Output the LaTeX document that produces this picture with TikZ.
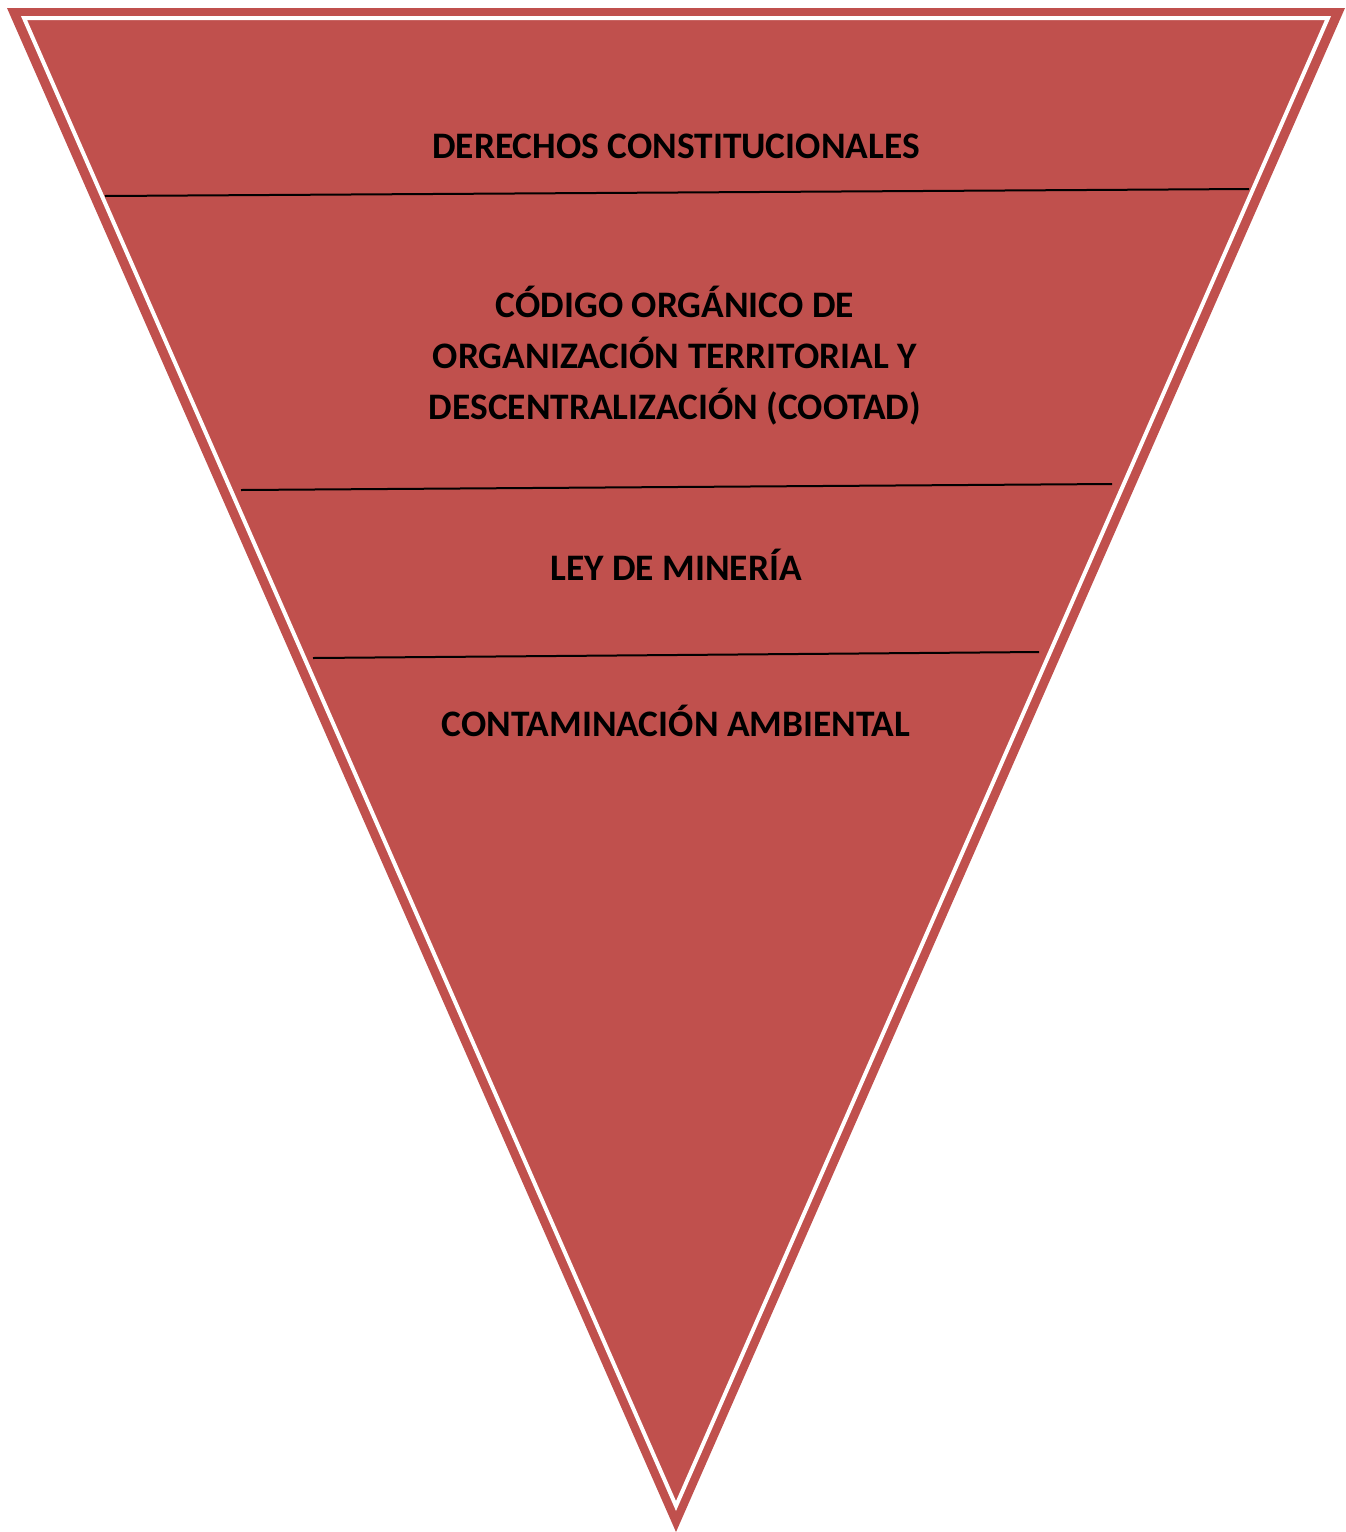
\documentclass[tikz,border=0pt]{standalone}
\usepackage{fontspec}
\setmainfont{Carlito}
\definecolor{accentred}{HTML}{C0504D}
\begin{document}
\begin{tikzpicture}[x=1pt,y=-1pt,
  lbl/.style={anchor=base,inner sep=0pt,font=\fontsize{37.4}{51}\selectfont\bfseries,text=black},
  divider/.style={draw=black,line width=2pt}]
\useasboundingbox (0,0) rectangle (1345,1532);
% outer triangle
\fill[accentred] (7,8) -- (1345,8) -- (676,1532) -- cycle;
% inner white border
\draw[white,line width=4pt,line join=miter,fill=accentred] (24,18) -- (1328,18) -- (676,1506) -- cycle;
% dividers
\coordinate (d1l) at (105,196); \coordinate (d1r) at (1249,189);
\coordinate (d2l) at (241,490); \coordinate (d2r) at (1112,484);
\coordinate (d3l) at (313,658); \coordinate (d3r) at (1039,652);
\draw[divider] (d1l) -- (d1r);
\draw[divider] (d2l) -- (d2r);
\draw[divider] (d3l) -- (d3r);
% labels
\node[lbl] (t1) at (676,158) {DERECHOS CONSTITUCIONALES};
\node[lbl] (t2a) at (675,317) {CÓDIGO ORGÁNICO DE};
\node[lbl] (t2b) at (675,368) {ORGANIZACIÓN TERRITORIAL Y};
\node[lbl] (t2c) at (675,419) {DESCENTRALIZACIÓN (COOTAD)};
\node[lbl] (t3) at (676,580) {LEY DE MINERÍA};
\node[lbl] (t4) at (676,736) {CONTAMINACIÓN AMBIENTAL};
\end{tikzpicture}
\end{document}
